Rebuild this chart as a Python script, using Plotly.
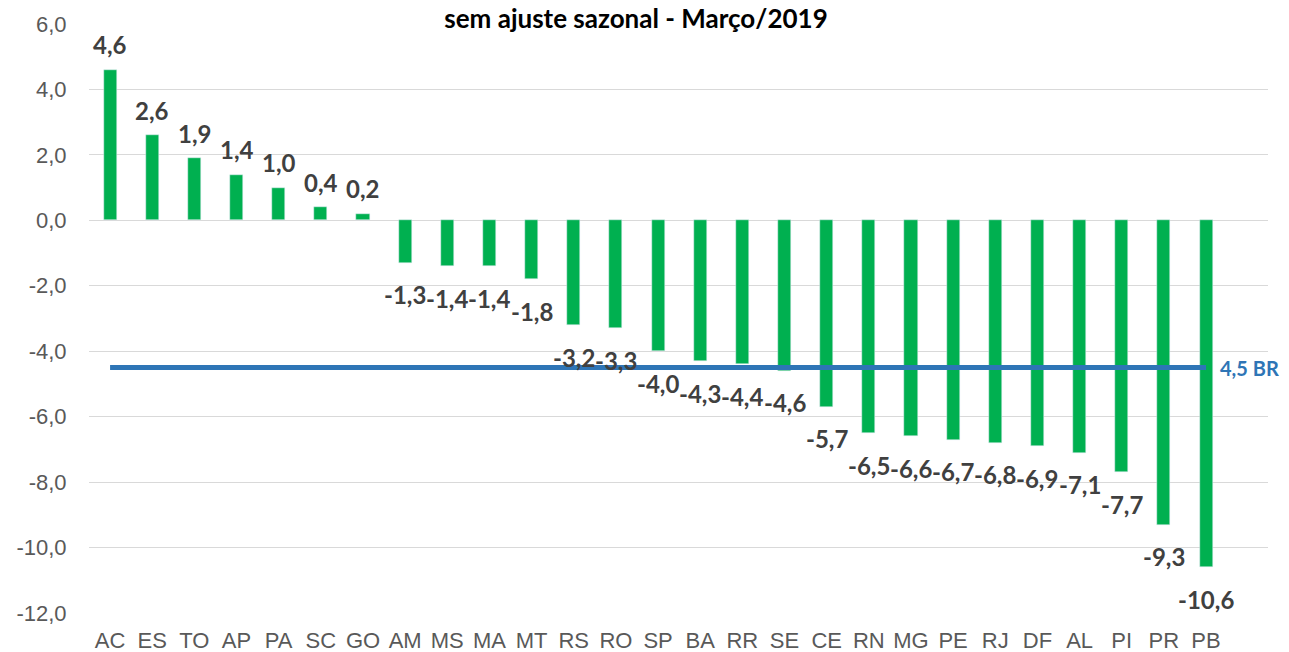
import plotly.graph_objects as go

states = ["AC", "ES", "TO", "AP", "PA", "SC", "GO", "AM", "MS", "MA", "MT", "RS", "RO", "SP",
          "BA", "RR", "SE", "CE", "RN", "MG", "PE", "RJ", "DF", "AL", "PI", "PR", "PB"]
values = [4.6, 2.6, 1.9, 1.4, 1.0, 0.4, 0.2, -1.3, -1.4, -1.4, -1.8, -3.2, -3.3, -4.0,
          -4.3, -4.4, -4.6, -5.7, -6.5, -6.6, -6.7, -6.8, -6.9, -7.1, -7.7, -9.3, -10.6]
br_value = -4.5
br_name = "BR"
title_text = "sem ajuste sazonal - Março/2019"
y_ticks = [6, 4, 2, 0, -2, -4, -6, -8, -10, -12]

GREEN = "#00B050"
BLUE = "#2E75B6"
LABEL = "#404040"
TICK = "#595959"
GRID = "#D9D9D9"


def fmt(v):
    return f"{v:.1f}".replace(".", ",")


fig = go.Figure()
fig.add_trace(go.Bar(x=states, y=values, marker_color=GREEN, width=0.31,
                     hoverinfo="x+y", showlegend=False))
fig.add_trace(go.Scatter(x=[states[0], states[-1]], y=[br_value, br_value], mode="lines",
                         line=dict(color=BLUE, width=5), showlegend=False, hoverinfo="skip"))

annotations = []
for s, v in zip(states, values):
    annotations.append(dict(x=s, y=v, xref="x", yref="y", text=fmt(v), showarrow=False,
                            yshift=25 if v >= 0 else -32, yanchor="middle",
                            font=dict(family="Lato", size=24, color=LABEL, weight="bold")))
annotations.append(dict(x=states[-1], y=br_value, xref="x", yref="y",
                        text=f"{fmt(abs(br_value))} {br_name}", showarrow=False,
                        xanchor="left", xshift=12, yanchor="middle",
                        font=dict(family="Lato", size=20, color=BLUE, weight="bold")))

fig.update_layout(
    width=1289, height=652,
    margin=dict(l=81, r=29, t=16, b=47, autoexpand=False),
    plot_bgcolor="white", paper_bgcolor="white",
    annotations=annotations,
    bargap=0,
    title=dict(text=title_text, x=628 / 1289, xanchor="center", xref="container",
               y=1 - 2 / 652, yref="container", yanchor="top", automargin=False,
               pad=dict(t=0, b=0, l=0, r=0),
               font=dict(family="Lato", size=26, color="#000000", weight="bold")),
)
fig.update_xaxes(range=[-0.5, 27.47], showgrid=False, zeroline=False, showline=False,
                 automargin=False,
                 ticks="outside", ticklen=8, tickcolor="rgba(0,0,0,0)",
                 tickfont=dict(family="Liberation Sans", size=22, color=TICK))
fig.update_yaxes(range=[-12, 6], tickvals=y_ticks, ticktext=[fmt(t) for t in y_ticks],
                 showgrid=True, gridcolor=GRID, gridwidth=1, zeroline=False, showline=False,
                 automargin=False,
                 ticks="outside", ticklen=17, tickcolor="rgba(0,0,0,0)",
                 tickfont=dict(family="Liberation Sans", size=22, color=TICK))

fig.write_html("out.html")
